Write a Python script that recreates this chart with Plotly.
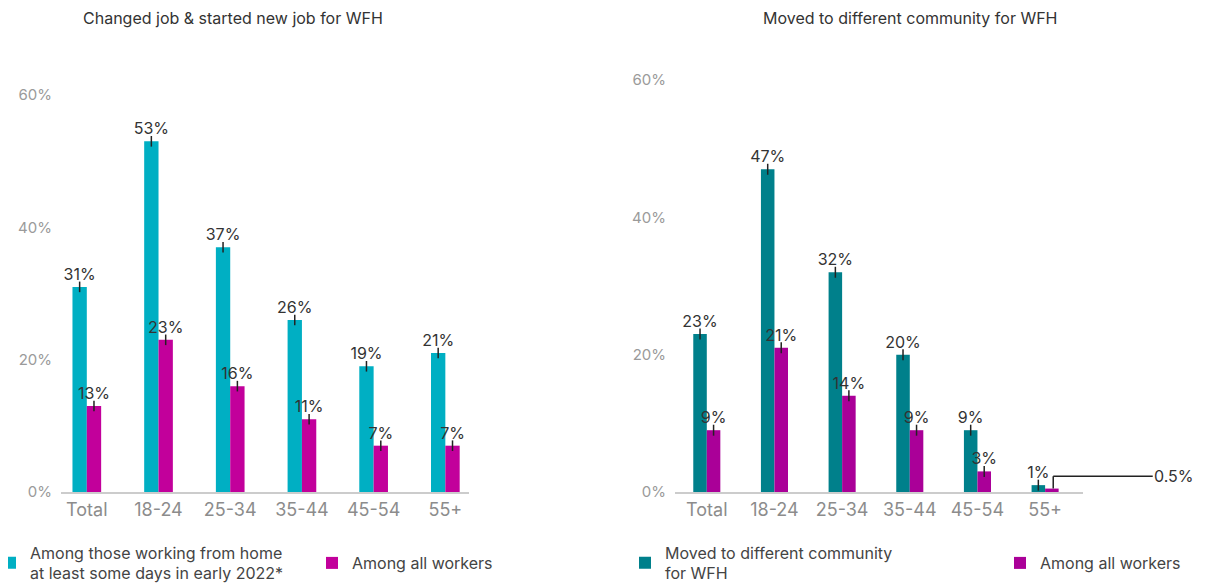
import plotly.graph_objects as go

# --- datos ---
categorias = ['Total', '18-24', '25-34', '35-44', '45-54', '55+']

empleo_wfh = [31, 53, 37, 26, 19, 21]
empleo_todos = [13, 23, 16, 11, 7, 7]

mudanza_wfh = [23, 47, 32, 20, 9, 1]
mudanza_todos = [9, 21, 14, 9, 3, 0.5]

ticks_y = [0, 20, 40, 60]
etiquetas_y = ['0%', '20%', '40%', '60%']

TITULO_IZQ = 'Changed job & started new job for WFH'
TITULO_DER = 'Moved to different community for WFH'

TEAL_CLARO = '#00AFC3'
TEAL_OSCURO = '#00808B'
MAGENTA = '#C2009B'
MAGENTA_OSC = '#AA0098'
FUENTE = 'Inter, Noto Sans, sans-serif'

# la página deja 8 px de margen en el body: la figura ocupa el resto
OFF = 8
W, H = 1221 - OFF, 585 - OFF


def px(x):
    return (x - OFF) / W


def py(y):
    return 1 - (y - OFF) / H


def etiquetas(valores, omitir_pequenos=False):
    # el 0.5% va con una línea guía aparte
    return ['' if (omitir_pequenos and v < 1) else f'{v:g}%' for v in valores]


def barra(valores, color, nombre, eje_x, eje_y, leyenda, omitir=False):
    return go.Bar(
        x=categorias, y=valores, name=nombre,
        marker=dict(color=color, line=dict(width=0)),
        text=etiquetas(valores, omitir), textposition='outside',
        constraintext='none',
        textfont=dict(size=16, color='#333333', family=FUENTE),
        cliponaxis=False,
        error_y=dict(type='data', array=[0 if (omitir and v < 1) else 0.8 for v in valores],
                     width=0, thickness=1.5, color='#222222'),
        xaxis=eje_x, yaxis=eje_y, legend=leyenda,
    )


fig = go.Figure()
fig.add_trace(barra(empleo_wfh, TEAL_CLARO,
                    'Among those working from home<br>at least some days in early 2022*',
                    'x', 'y', 'legend'))
fig.add_trace(barra(empleo_todos, MAGENTA, 'Among all workers', 'x', 'y', 'legend2'))
fig.add_trace(barra(mudanza_wfh, TEAL_OSCURO, 'Moved to different community<br>for WFH',
                    'x2', 'y2', 'legend3'))
fig.add_trace(barra(mudanza_todos, MAGENTA_OSC, 'Among all workers', 'x2', 'y2', 'legend4',
                    omitir=True))

eje_x = dict(type='category', showgrid=False, zeroline=False, showline=True,
             linecolor='#CCCCCC', linewidth=2, ticks='',
             tickfont=dict(size=18, color='#8C8C8C', family=FUENTE), fixedrange=True)
eje_y = dict(range=[0, 60], tickvals=ticks_y, ticktext=etiquetas_y, showgrid=False,
             zeroline=False, showline=False, ticks='', ticklabelstandoff=8,
             tickfont=dict(size=15, color='#9A9A9A', family=FUENTE), fixedrange=True)


def leyenda(x_texto):
    # una leyenda por elemento, colocada según la posición del texto
    return dict(x=px(x_texto - 40), y=py(563), xanchor='left', yanchor='middle',
                font=dict(size=16, color='#444444'), bgcolor='rgba(0,0,0,0)')


fig.update_layout(
    width=W, height=H,
    margin=dict(l=0, r=0, t=0, b=0, autoexpand=False),
    paper_bgcolor='white', plot_bgcolor='white',
    barmode='group', bargap=0.6, bargroupgap=0,
    font=dict(family=FUENTE, color='#333333'),
    xaxis=dict(eje_x, domain=[px(61), px(469)], range=[-0.36, 5.33], anchor='y'),
    yaxis=dict(eje_y, domain=[py(492), py(95)], anchor='x'),
    xaxis2=dict(eje_x, domain=[px(675), px(1083)], range=[-0.47, 5.56], anchor='y2'),
    yaxis2=dict(eje_y, domain=[py(492), py(80)], anchor='x2'),
    legend=leyenda(30),
    legend2=leyenda(352),
    legend3=leyenda(665),
    legend4=leyenda(1040),
    showlegend=True,
)

# títulos de cada panel
fig.add_annotation(text=TITULO_IZQ, x=px(233), y=py(18), xref='paper', yref='paper',
                   showarrow=False, font=dict(size=16, color='#333333'),
                   xanchor='center', yanchor='middle')
fig.add_annotation(text=TITULO_DER, x=px(910), y=py(18), xref='paper', yref='paper',
                   showarrow=False, font=dict(size=16, color='#333333'),
                   xanchor='center', yanchor='middle')

# línea guía para el valor pequeño (0.5%): tramo vertical + flecha horizontal
idx = 5
v = mudanza_todos[idx]
x0 = idx + 0.12
fig.add_shape(type='line', xref='x2', yref='y2', x0=x0, x1=x0, y0=v, y1=v + 1.8,
              line=dict(color='#222222', width=1.5))
fig.add_annotation(text=f'{v:g}%', x=x0, y=v + 1.8, xref='x2', yref='y2',
                   showarrow=True, arrowhead=0, arrowwidth=1.5, arrowcolor='#222222',
                   ax=121, ay=0, standoff=0, borderpad=1,
                   font=dict(size=16, color='#333333'))

fig.write_html('out.html')
